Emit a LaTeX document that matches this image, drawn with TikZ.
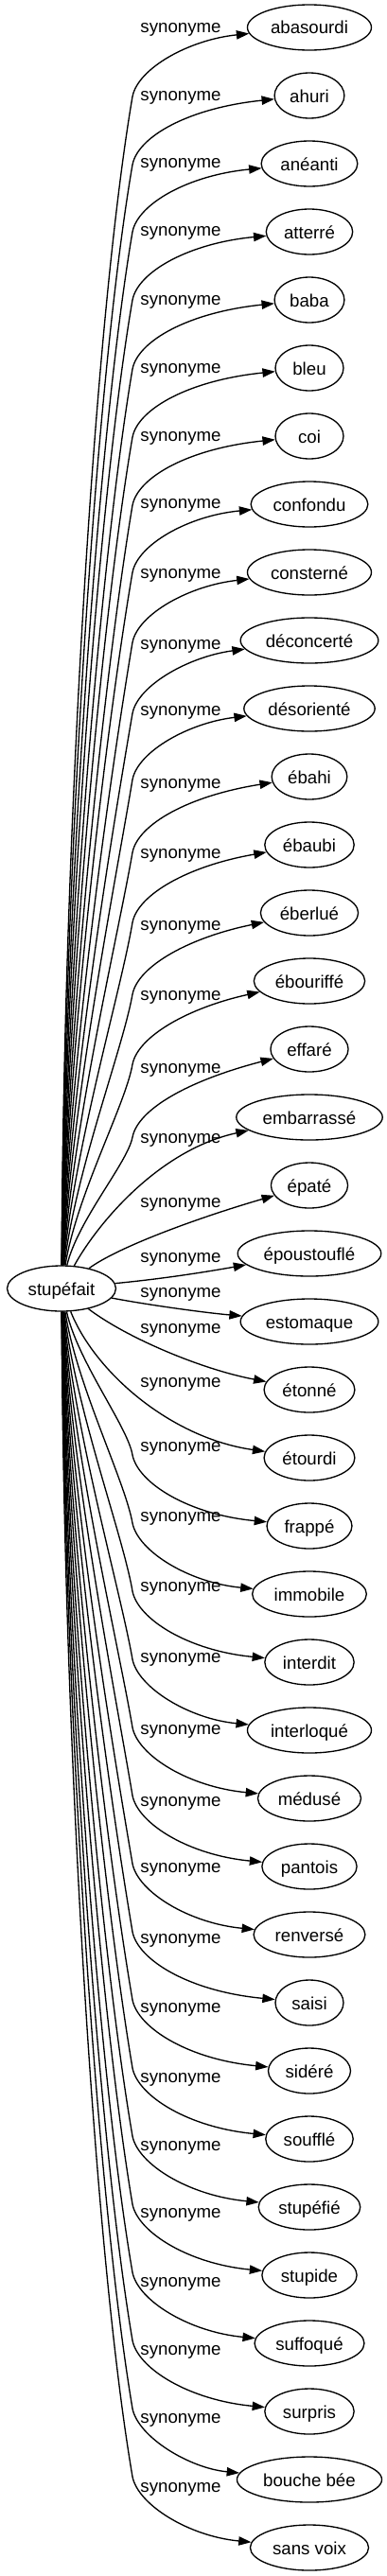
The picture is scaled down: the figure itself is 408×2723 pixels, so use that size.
\documentclass[tikz,border=0pt]{standalone}
\usepackage{fontspec}
\setmainfont{Liberation Sans}
\usepackage{tikz}
\usetikzlibrary{shapes.geometric}
\usetikzlibrary{positioning, arrows.meta}

\begin{document}
\begin{tikzpicture}[x=0.75pt, y=-0.75pt,
    every node/.style={font=\fontsize{14pt}{16pt}\selectfont},
    word/.style={draw, ellipse, line width=1pt, inner xsep=4pt, inner ysep=0pt,
        minimum width=54pt, minimum height=36pt, text height=13.5pt, text depth=3pt},
    syn/.style={anchor=base, inner sep=0pt},
    link/.style={line width=1pt, -{Triangle[length=10pt, width=7pt]}}]
    \useasboundingbox (0,0) rectangle (408,2723);

    % Central word
    \node[word] (stupefait) at (65,1362) {stupéfait};

    % Synonyms
    \node[word] (abasourdi) at (327,29) {abasourdi};
    \node[word] (ahuri) at (327,101) {ahuri};
    \node[word] (aneanti) at (327,173) {anéanti};
    \node[word] (atterre) at (327,245) {atterré};
    \node[word] (baba) at (327,317) {baba};
    \node[word] (bleu) at (327,389) {bleu};
    \node[word] (coi) at (327,461) {coi};
    \node[word] (confondu) at (327,533) {confondu};
    \node[word] (consterne) at (327,605) {consterné};
    \node[word] (deconcerte) at (327,677) {déconcerté};
    \node[word] (desoriente) at (327,749) {désorienté};
    \node[word] (ebahi) at (327,821) {ébahi};
    \node[word] (ebaubi) at (327,893) {ébaubi};
    \node[word] (eberlue) at (327,965) {éberlué};
    \node[word] (ebouriffe) at (327,1037) {ébouriffé};
    \node[word] (effare) at (327,1109) {effaré};
    \node[word] (embarrasse) at (327,1181) {embarrassé};
    \node[word] (epate) at (327,1253) {épaté};
    \node[word] (epoustoufle) at (327,1325) {époustouflé};
    \node[word] (estomaque) at (327,1397) {estomaque};
    \node[word] (etonne) at (327,1469) {étonné};
    \node[word] (etourdi) at (327,1541) {étourdi};
    \node[word] (frappe) at (327,1613) {frappé};
    \node[word] (immobile) at (327,1685) {immobile};
    \node[word] (interdit) at (327,1757) {interdit};
    \node[word] (interloque) at (327,1829) {interloqué};
    \node[word] (meduse) at (327,1901) {médusé};
    \node[word] (pantois) at (327,1973) {pantois};
    \node[word] (renverse) at (327,2045) {renversé};
    \node[word] (saisi) at (327,2117) {saisi};
    \node[word] (sidere) at (327,2189) {sidéré};
    \node[word] (souffle) at (327,2261) {soufflé};
    \node[word] (stupefie) at (327,2333) {stupéfié};
    \node[word] (stupide) at (327,2405) {stupide};
    \node[word] (suffoque) at (327,2477) {suffoqué};
    \node[word] (surpris) at (327,2549) {surpris};
    \node[word] (bouchebee) at (327,2621) {bouche bée};
    \node[word] (sansvoix) at (327,2693) {sans voix};

    % Edge labels
    \node[syn] (lab1) at (191,34) {synonyme};
    \node[syn] (lab2) at (191,106) {synonyme};
    \node[syn] (lab3) at (191,177) {synonyme};
    \node[syn] (lab4) at (191,249) {synonyme};
    \node[syn] (lab5) at (191,322) {synonyme};
    \node[syn] (lab6) at (191,394) {synonyme};
    \node[syn] (lab7) at (191,466) {synonyme};
    \node[syn] (lab8) at (191,537) {synonyme};
    \node[syn] (lab9) at (191,611) {synonyme};
    \node[syn] (lab10) at (191,686) {synonyme};
    \node[syn] (lab11) at (191,756) {synonyme};
    \node[syn] (lab12) at (191,833) {synonyme};
    \node[syn] (lab13) at (191,907) {synonyme};
    \node[syn] (lab14) at (191,983) {synonyme};
    \node[syn] (lab15) at (191,1057) {synonyme};
    \node[syn] (lab16) at (191,1134) {synonyme};
    \node[syn] (lab17) at (191,1208) {synonyme};
    \node[syn] (lab18) at (191,1276) {synonyme};
    \node[syn] (lab19) at (191,1334) {synonyme};
    \node[syn] (lab20) at (191,1371) {synonyme};
    \node[syn] (lab21) at (191,1409) {synonyme};
    \node[syn] (lab22) at (191,1466) {synonyme};
    \node[syn] (lab23) at (191,1534) {synonyme};
    \node[syn] (lab24) at (191,1608) {synonyme};
    \node[syn] (lab25) at (191,1682) {synonyme};
    \node[syn] (lab26) at (191,1757) {synonyme};
    \node[syn] (lab27) at (191,1833) {synonyme};
    \node[syn] (lab28) at (191,1909) {synonyme};
    \node[syn] (lab29) at (191,1979) {synonyme};
    \node[syn] (lab30) at (191,2054) {synonyme};
    \node[syn] (lab31) at (191,2127) {synonyme};
    \node[syn] (lab32) at (191,2201) {synonyme};
    \node[syn] (lab33) at (191,2273) {synonyme};
    \node[syn] (lab34) at (191,2344) {synonyme};
    \node[syn] (lab35) at (191,2417) {synonyme};
    \node[syn] (lab36) at (191,2489) {synonyme};
    \node[syn] (lab37) at (191,2561) {synonyme};
    \node[syn] (lab38) at (191,2634) {synonyme};

    % Connections going up
    \draw[link] (stupefait) .. controls (67,905) and (98,349) .. (140,102) .. controls (146,72) and (200,42) .. (abasourdi);
    \draw[link] (stupefait) .. controls (68,930) and (100,407) .. (140,174) .. controls (146,144) and (200,114) .. (ahuri);
    \draw[link] (stupefait) .. controls (69,955) and (103,463) .. (140,245) .. controls (146,215) and (200,185) .. (aneanti);
    \draw[link] (stupefait) .. controls (70,980) and (105,521) .. (140,317) .. controls (146,287) and (200,257) .. (atterre);
    \draw[link] (stupefait) .. controls (71,1006) and (108,579) .. (140,390) .. controls (146,360) and (200,330) .. (baba);
    \draw[link] (stupefait) .. controls (72,1031) and (110,637) .. (140,462) .. controls (146,432) and (200,402) .. (bleu);
    \draw[link] (stupefait) .. controls (73,1056) and (113,695) .. (140,534) .. controls (146,504) and (200,474) .. (coi);
    \draw[link] (stupefait) .. controls (74,1081) and (115,751) .. (140,605) .. controls (146,575) and (200,545) .. (confondu);
    \draw[link] (stupefait) .. controls (75,1107) and (118,811) .. (140,679) .. controls (146,649) and (200,619) .. (consterne);
    \draw[link] (stupefait) .. controls (76,1133) and (120,871) .. (140,754) .. controls (146,724) and (200,694) .. (deconcerte);
    \draw[link] (stupefait) .. controls (77,1157) and (123,927) .. (140,824) .. controls (146,794) and (200,764) .. (desoriente);
    \draw[link] (stupefait) .. controls (78,1184) and (125,988) .. (140,901) .. controls (146,871) and (200,841) .. (ebahi);
    \draw[link] (stupefait) .. controls (79,1210) and (128,1047) .. (140,975) .. controls (146,945) and (200,915) .. (ebaubi);
    \draw[link] (stupefait) .. controls (80,1237) and (130,1108) .. (140,1051) .. controls (146,1021) and (200,991) .. (eberlue);
    \draw[link] (stupefait) .. controls (81,1263) and (133,1167) .. (140,1125) .. controls (146,1095) and (200,1065) .. (ebouriffe);
    \draw[link] (stupefait) .. controls (82,1290) and (135,1229) .. (140,1202) .. controls (146,1172) and (200,1142) .. (effare);
    \draw[link] (stupefait) .. controls (105,1290) and (170,1215) .. (embarrasse);
    \draw[link] (stupefait) .. controls (125,1318) and (210,1287) .. (epate);

    % Connections to the side
    \draw[link] (stupefait) .. controls (170,1352) and (215,1345) .. (epoustoufle);
    \draw[link] (stupefait) .. controls (160,1380) and (220,1388) .. (estomaque);
    \draw[link] (stupefait) .. controls (135,1415) and (215,1448) .. (etonne);
    \draw[link] (stupefait) .. controls (100,1450) and (180,1520) .. (etourdi);

    % Connections going down
    \draw[link] (stupefait) .. controls (82,1439) and (135,1508) .. (140,1538) .. controls (146,1568) and (200,1601) .. (frappe);
    \draw[link] (stupefait) .. controls (81,1464) and (132,1565) .. (140,1610) .. controls (146,1640) and (200,1673) .. (immobile);
    \draw[link] (stupefait) .. controls (80,1490) and (130,1623) .. (140,1682) .. controls (146,1712) and (200,1745) .. (interdit);
    \draw[link] (stupefait) .. controls (79,1515) and (127,1680) .. (140,1754) .. controls (146,1784) and (200,1817) .. (interloque);
    \draw[link] (stupefait) .. controls (78,1540) and (125,1738) .. (140,1826) .. controls (146,1856) and (200,1889) .. (meduse);
    \draw[link] (stupefait) .. controls (77,1565) and (123,1796) .. (140,1898) .. controls (146,1928) and (200,1961) .. (pantois);
    \draw[link] (stupefait) .. controls (76,1590) and (120,1853) .. (140,1970) .. controls (146,2000) and (200,2033) .. (renverse);
    \draw[link] (stupefait) .. controls (75,1616) and (118,1911) .. (140,2042) .. controls (146,2072) and (200,2105) .. (saisi);
    \draw[link] (stupefait) .. controls (74,1641) and (115,1968) .. (140,2114) .. controls (146,2144) and (200,2177) .. (sidere);
    \draw[link] (stupefait) .. controls (73,1666) and (113,2026) .. (140,2186) .. controls (146,2216) and (200,2249) .. (souffle);
    \draw[link] (stupefait) .. controls (72,1691) and (110,2084) .. (140,2258) .. controls (146,2288) and (200,2321) .. (stupefie);
    \draw[link] (stupefait) .. controls (71,1716) and (108,2141) .. (140,2330) .. controls (146,2360) and (200,2393) .. (stupide);
    \draw[link] (stupefait) .. controls (70,1742) and (105,2199) .. (140,2402) .. controls (146,2432) and (200,2465) .. (suffoque);
    \draw[link] (stupefait) .. controls (69,1767) and (103,2256) .. (140,2474) .. controls (146,2504) and (200,2537) .. (surpris);
    \draw[link] (stupefait) .. controls (68,1792) and (101,2314) .. (140,2546) .. controls (146,2576) and (200,2609) .. (bouchebee);
    \draw[link] (stupefait) .. controls (67,1817) and (98,2372) .. (140,2618) .. controls (146,2648) and (200,2681) .. (sansvoix);
\end{tikzpicture}
\end{document}
